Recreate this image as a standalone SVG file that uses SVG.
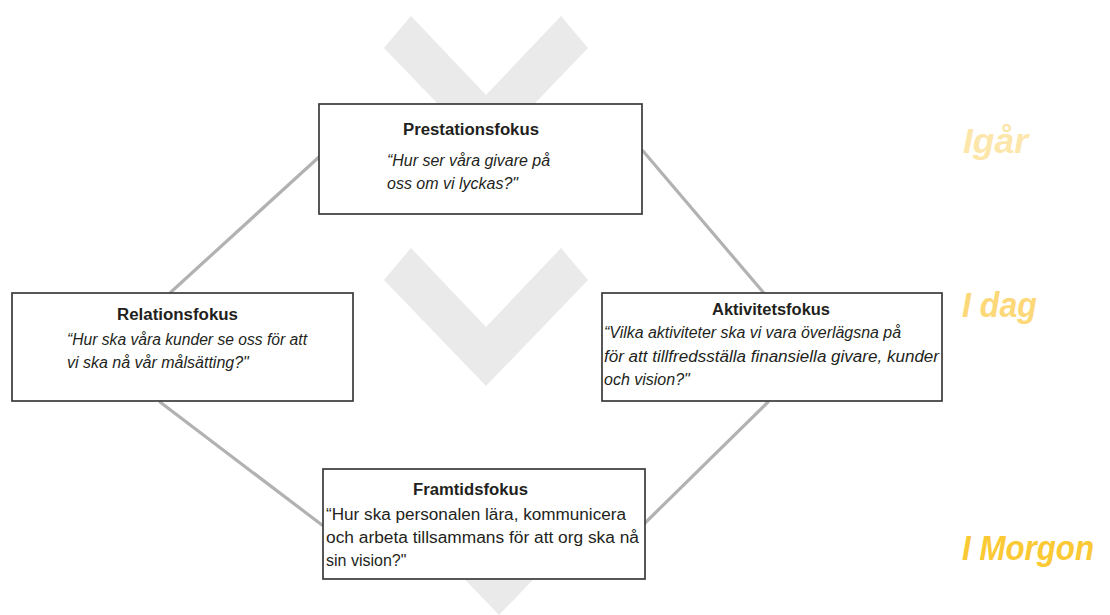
<svg xmlns="http://www.w3.org/2000/svg" width="1110" height="615" viewBox="0 0 1110 615">
<defs>
<style>
.chev{fill:#eaeaea;stroke:none}
.conn{stroke:#b2b2b2;stroke-width:3.2;fill:none;stroke-linecap:round}
.box{fill:#ffffff;stroke:#3a3a3a;stroke-width:1.7}
.title{font-family:"Liberation Sans",Arial,sans-serif;font-weight:bold;font-size:16px;fill:#231f20;text-anchor:start}
.it{font-family:"Liberation Sans",Arial,sans-serif;font-style:italic;font-size:16px;fill:#231f20}
.rg{font-family:"Liberation Sans",Arial,sans-serif;font-size:16px;fill:#231f20}
.lab{font-family:"Liberation Sans",Arial,sans-serif;font-style:italic;font-weight:bold;font-size:35px}
</style>
</defs>
<rect width="1110" height="615" fill="#ffffff"/>
<g id="chevrons">
<polygon class="chev" points="411,16 486,95 561,16 588,48 486,154 384,48"/>
<polygon class="chev" points="411,248 486,327 561,248 588,280 486,386 384,280"/>
<polygon class="chev" points="424,477 499,556 574,477 601,509 499,615 397,509"/>
</g>
<g id="connectors">
<line class="conn" x1="319" y1="157" x2="171" y2="292"/>
<line class="conn" x1="643" y1="151" x2="763" y2="292"/>
<line class="conn" x1="160" y1="402" x2="322" y2="525"/>
<line class="conn" x1="768" y1="402" x2="645" y2="523"/>
</g>
<g id="prestationsfokus">
<rect class="box" x="319" y="104" width="323" height="110"/>
<text class="title" x="403" y="135" textLength="136" lengthAdjust="spacingAndGlyphs">Prestationsfokus</text>
<text class="it" x="387" y="166" textLength="163" lengthAdjust="spacingAndGlyphs">“Hur ser våra givare på</text>
<text class="it" x="387" y="189">oss om vi lyckas?"</text>
</g>
<g id="relationsfokus">
<rect class="box" x="12" y="293" width="341" height="108"/>
<text class="title" x="117" y="320" textLength="121" lengthAdjust="spacingAndGlyphs">Relationsfokus</text>
<text class="it" x="67" y="345" textLength="240" lengthAdjust="spacingAndGlyphs">“Hur ska våra kunder se oss för att</text>
<text class="it" x="67" y="368">vi ska nå vår målsätting?"</text>
</g>
<g id="aktivitetsfokus">
<rect class="box" x="602" y="293" width="340" height="108"/>
<text class="title" x="712" y="315" textLength="118" lengthAdjust="spacingAndGlyphs">Aktivitetsfokus</text>
<text class="it" x="604" y="338" textLength="297" lengthAdjust="spacingAndGlyphs">“Vilka aktiviteter ska vi vara överlägsna på</text>
<text class="it" x="604" y="362" textLength="335" lengthAdjust="spacingAndGlyphs">för att tillfredsställa finansiella givare, kunder</text>
<text class="it" x="604" y="385">och vision?"</text>
</g>
<g id="framtidsfokus">
<rect class="box" x="323" y="469" width="322" height="110"/>
<text class="title" x="413" y="495" textLength="115" lengthAdjust="spacingAndGlyphs">Framtidsfokus</text>
<text class="rg" x="326" y="520" textLength="300" lengthAdjust="spacingAndGlyphs">“Hur ska personalen lära, kommunicera</text>
<text class="rg" x="326" y="543" textLength="313" lengthAdjust="spacingAndGlyphs">och arbeta tillsammans för att org ska nå</text>
<text class="rg" x="326" y="566">sin vision?"</text>
</g>
<g id="labels">
<text class="lab" x="963" y="153" fill="#fde6aa" textLength="65" lengthAdjust="spacingAndGlyphs">Igår</text>
<text class="lab" x="962" y="317" fill="#fcd878" textLength="75" lengthAdjust="spacingAndGlyphs">I dag</text>
<text class="lab" x="962" y="560" fill="#fbc934" textLength="132" lengthAdjust="spacingAndGlyphs">I Morgon</text>
</g>
</svg>
